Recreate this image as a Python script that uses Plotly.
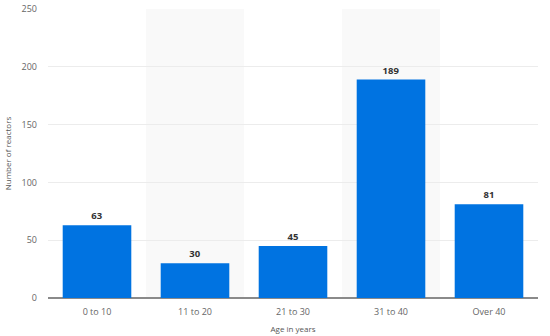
import plotly.graph_objects as go

categories = ["0 to 10", "11 to 20", "21 to 30", "31 to 40", "Over 40"]
reactors = [63, 30, 45, 189, 81]
y_ticks = [0, 50, 100, 150, 200, 250]

fig = go.Figure()
fig.add_trace(go.Bar(
    x=categories, y=reactors,
    marker=dict(color="#0073e1", line=dict(width=0)),
    text=[str(v) for v in reactors], textposition="outside",
    textfont=dict(family="Open Sans", size=9.5, color="#333333"),
    texttemplate="<b>%{text}</b>",
    cliponaxis=False,
))

shapes = []
for i in range(len(categories)):
    if i % 2 == 1:
        shapes.append(dict(type="rect", xref="x", yref="paper", x0=i - 0.5, x1=i + 0.5,
                           y0=0, y1=1, fillcolor="#f9f9f9", line=dict(width=0), layer="below"))

fig.update_layout(
    width=550, height=336,
    margin=dict(l=48, r=12, t=9, b=38, autoexpand=False),
    paper_bgcolor="white", plot_bgcolor="white",
    bargap=0.3,
    showlegend=False,
    shapes=shapes,
    font=dict(family="Open Sans", color="#666666"),
    xaxis=dict(
        type="category", showgrid=False, ticks="", tickfont=dict(size=9, color="#666666"),
        ticklabelstandoff=7,
        title=dict(text="Age in years", font=dict(size=8, color="#555555"), standoff=9),
        showline=False, zeroline=False, automargin=False,
    ),
    yaxis=dict(
        range=[0, 250], tickvals=y_ticks, showgrid=True, gridcolor="#ececec", gridwidth=1,
        zeroline=True, zerolinecolor="#8a8a8a", zerolinewidth=2,
        tickfont=dict(size=9, color="#666666"), ticklabelstandoff=10,
        title=dict(text="Number of reactors", font=dict(size=8, color="#555555"), standoff=8),
        showline=False, automargin=False,
    ),
)

fig.write_html("out.html", post_script="document.body.style.margin='0';",
               config={"displayModeBar": False})
